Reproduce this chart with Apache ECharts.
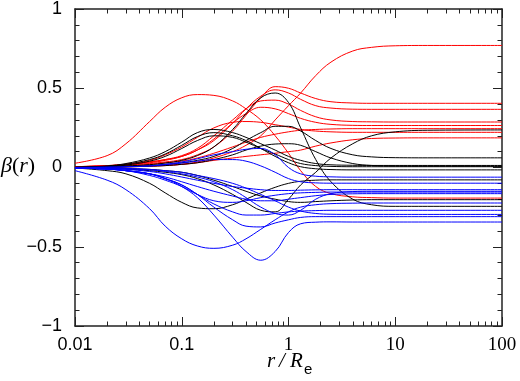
<!DOCTYPE html>
<html><head><meta charset="utf-8">
<script src="https://cdn.jsdelivr.net/npm/echarts@6/dist/echarts.min.js"></script>
<style>html,body{margin:0;padding:0;background:#fff}#c{width:520px;height:381px}</style>
</head><body><div id="c"></div>
<script>
// radius grid r/Re
const radius = [0.01,0.02,0.03,0.05,0.07,0.1,0.14,0.2,0.3,0.4,0.55,0.75,1,1.3,1.8,2.5,4,6,10,20,100];
const xMajorTicks = [0.01,0.1,1,10,100];
const xMinorTicks = [0.02,0.03,0.04,0.05,0.06,0.07,0.08,0.09,0.2,0.3,0.4,0.5,0.6,0.7,0.8,0.9,2,3,4,5,6,7,8,9,20,30,40,50,60,70,80,90];

// red models
const red1 = [0.027,0.075,0.15,0.29,0.38,0.44,0.46,0.455,0.42,0.37,0.30,0.20,0.09,-0.02,-0.12,-0.165,-0.185,-0.19,-0.193,-0.193,-0.193];
const red2 = [0,0.002,0.004,0.008,0.012,0.02,0.035,0.06,0.10,0.14,0.2,0.3,0.39,0.47,0.58,0.665,0.735,0.758,0.768,0.77,0.77];
const red3 = [0.005,0.01,0.015,0.025,0.035,0.05,0.08,0.13,0.23,0.33,0.44,0.51,0.5,0.47,0.435,0.415,0.407,0.405,0.405,0.405,0.405];
const red4 = [0.005,0.012,0.02,0.035,0.05,0.07,0.11,0.17,0.28,0.37,0.45,0.49,0.47,0.43,0.39,0.375,0.368,0.367,0.367,0.367,0.367];
const red5 = [0.005,0.012,0.02,0.035,0.05,0.075,0.12,0.2,0.3,0.37,0.42,0.425,0.4,0.36,0.32,0.3,0.29,0.288,0.287,0.287,0.287];
const red6 = [0.005,0.01,0.018,0.03,0.045,0.07,0.11,0.18,0.28,0.34,0.38,0.37,0.34,0.31,0.285,0.272,0.266,0.265,0.265,0.265,0.265];
const red7 = [0.003,0.006,0.01,0.02,0.03,0.04,0.06,0.09,0.13,0.16,0.19,0.21,0.225,0.235,0.24,0.243,0.245,0.245,0.245,0.245,0.245];
const red8 = [0.003,0.01,0.02,0.045,0.08,0.13,0.19,0.25,0.285,0.29,0.285,0.27,0.255,0.24,0.23,0.225,0.222,0.222,0.222,0.222,0.222];
const red9 = [0.002,0.004,0.006,0.01,0.015,0.02,0.03,0.045,0.06,0.07,0.08,0.09,0.1,0.11,0.135,0.155,0.175,0.183,0.186,0.187,0.187];

// black models
const black1 = [0.003,0.006,0.01,0.018,0.028,0.045,0.075,0.13,0.24,0.34,0.44,0.47,0.41,0.25,0.05,-0.09,-0.2,-0.235,-0.245,-0.245,-0.245];
const black2 = [-0.002,-0.005,-0.01,-0.02,-0.03,-0.045,-0.07,-0.11,-0.17,-0.22,-0.27,-0.28,-0.2,-0.11,-0.03,0.06,0.15,0.2,0.225,0.235,0.237];
const black3 = [-0.003,-0.02,-0.04,-0.1,-0.16,-0.22,-0.255,-0.26,-0.235,-0.2,-0.16,-0.125,-0.1,-0.087,-0.08,-0.078,-0.078,-0.078,-0.078,-0.078,-0.078];
const black4 = [0,0.01,0.025,0.06,0.1,0.16,0.22,0.24,0.22,0.19,0.15,0.11,0.07,0.045,0.025,0.017,0.014,0.013,0.013,0.013,0.013];
const black5 = [0,0.008,0.02,0.05,0.085,0.14,0.195,0.22,0.2,0.17,0.12,0.07,0.03,0.005,-0.008,-0.013,-0.015,-0.015,-0.015,-0.015,-0.015];
const black6 = [0,0.006,0.015,0.04,0.07,0.12,0.17,0.2,0.19,0.16,0.12,0.085,0.05,0.025,0.012,0.007,0.005,0.005,0.005,0.005,0.005];
const black7 = [0,0.003,0.006,0.012,0.02,0.03,0.045,0.07,0.12,0.17,0.22,0.26,0.26,0.23,0.17,0.12,0.08,0.067,0.062,0.061,0.061];
const black8 = [0,0.002,0.004,0.008,0.012,0.02,0.03,0.05,0.08,0.11,0.135,0.148,0.15,0.14,0.1,0.06,0.025,0.013,0.009,0.008,0.008];
const black9 = [0,-0.003,-0.006,-0.012,-0.02,-0.03,-0.05,-0.08,-0.12,-0.15,-0.18,-0.2,-0.215,-0.22,-0.215,-0.21,-0.205,-0.203,-0.203,-0.203,-0.203];

// blue models
const blue1 = [-0.02,-0.08,-0.14,-0.26,-0.37,-0.45,-0.495,-0.51,-0.49,-0.45,-0.39,-0.33,-0.28,-0.25,-0.235,-0.228,-0.225,-0.224,-0.224,-0.224,-0.224];
const blue2 = [-0.005,-0.01,-0.02,-0.04,-0.07,-0.12,-0.19,-0.3,-0.44,-0.53,-0.585,-0.53,-0.41,-0.355,-0.345,-0.343,-0.344,-0.344,-0.344,-0.344,-0.344];
const blue3 = [-0.003,-0.01,-0.02,-0.04,-0.07,-0.11,-0.17,-0.25,-0.33,-0.37,-0.375,-0.35,-0.33,-0.315,-0.31,-0.31,-0.31,-0.31,-0.31,-0.31,-0.31];
const blue4 = [-0.003,-0.01,-0.02,-0.04,-0.07,-0.11,-0.17,-0.23,-0.28,-0.3,-0.3,-0.29,-0.28,-0.275,-0.272,-0.27,-0.27,-0.27,-0.27,-0.27,-0.27];
const blue5 = [-0.003,-0.01,-0.02,-0.04,-0.06,-0.09,-0.12,-0.15,-0.18,-0.2,-0.21,-0.21,-0.2,-0.19,-0.178,-0.17,-0.166,-0.165,-0.165,-0.165,-0.165];
const blue6 = [-0.002,-0.004,-0.008,-0.015,-0.025,-0.04,-0.06,-0.09,-0.14,-0.19,-0.25,-0.29,-0.3,-0.27,-0.2,-0.165,-0.152,-0.15,-0.15,-0.15,-0.15];
const blue7 = [0,0.002,0.005,0.01,0.02,0.035,0.055,0.08,0.1,0.115,0.12,0.08,0.0,-0.04,-0.055,-0.059,-0.061,-0.061,-0.061,-0.061,-0.061];
const blue8 = [0,0.002,0.004,0.01,0.018,0.028,0.04,0.05,0.05,0.04,0.01,-0.03,-0.07,-0.09,-0.097,-0.099,-0.099,-0.099,-0.099,-0.099,-0.099];
const blue9 = [-0.002,-0.006,-0.012,-0.025,-0.04,-0.06,-0.08,-0.1,-0.12,-0.13,-0.14,-0.145,-0.145,-0.143,-0.141,-0.14,-0.14,-0.14,-0.14,-0.14,-0.14];
const blue10 = [-0.003,-0.01,-0.02,-0.05,-0.08,-0.12,-0.17,-0.21,-0.22,-0.21,-0.19,-0.175,-0.165,-0.16,-0.157,-0.155,-0.155,-0.155,-0.155,-0.155,-0.155];
const blue11 = [-0.001,-0.003,-0.006,-0.012,-0.02,-0.03,-0.05,-0.07,-0.1,-0.13,-0.17,-0.21,-0.25,-0.275,-0.29,-0.295,-0.296,-0.296,-0.296,-0.296,-0.296];

const redModels = [red1,red2,red3,red4,red5,red6,red7,red8,red9];
const blackModels = [black1,black2,black3,black4,black5,black6,black7,black8,black9];
const blueModels = [blue1,blue2,blue3,blue4,blue5,blue6,blue7,blue8,blue9,blue10,blue11];

const chart = echarts.init(document.getElementById('c'), null, {renderer:'canvas'});
const series = [];
function addGroup(models, color){
  models.forEach(function(m, i){
    series.push({
      type:'line', name: color+i, data: radius.map(function(r,k){return [r, m[k]];}),
      showSymbol:false, smooth:0.4, silent:true, animation:false,
      lineStyle:{color:color, width:1}, z:2
    });
  });
}
addGroup(redModels, '#ff0000');
addGroup(blackModels, '#000000');
addGroup(blueModels, '#0000ff');

const lblFont = '"Liberation Sans", Arial, sans-serif';
function frame(show){ return {show:show, onZero:false, lineStyle:{color:'#222', width:1.5}}; }
function xAxisBase(pos, ticks, len, line){
  return {type:'log', logBase:10, min:0.01, max:100, position:pos, splitLine:{show:false},
    axisLine:frame(line), axisTick:{show:true, inside:true, length:len, customValues:ticks, lineStyle:{color:'#222', width:1}},
    axisLabel:{show:false}, minorTick:{show:false}};
}
const xMain = xAxisBase('bottom', xMajorTicks, 9, true);
xMain.axisLabel = {show:true, margin:10, color:'#000', customValues:xMajorTicks,
  formatter:function(v){ return v < 1 ? '{s|'+(+v.toPrecision(1))+'}' : '{r|'+Math.round(v)+'}'; },
  rich:{s:{fontFamily:lblFont, fontSize:18, color:'#000'}, r:{fontFamily:'"Liberation Serif", serif', fontSize:19, color:'#000'}}};
const xTop = xAxisBase('top', xMajorTicks, 9, true);
const xMinB = xAxisBase('bottom', xMinorTicks, 4.5, false);
const xMinT = xAxisBase('top', xMinorTicks, 4.5, false);

function yAxisBase(pos, labels){
  return {type:'value', min:-1, max:1, interval:0.5, position:pos, splitLine:{show:false},
    axisLine:frame(true), axisTick:{show:true, inside:true, length:9, lineStyle:{color:'#222', width:1}},
    minorTick:{show:true, splitNumber:5, length:4.5, lineStyle:{color:'#222', width:1}},
    axisLabel:{show:labels, margin:13, color:'#000', fontFamily:lblFont, fontSize:18,
      formatter:function(v){ return v < 0 ? '\u2212'+Math.abs(v) : String(v); }}};
}

const titleSerif = 'italic 21px "Liberation Serif", serif';
chart.setOption({
  animation:false,
  backgroundColor:'#fff',
  grid:{left:75, right:18, top:8, bottom:55, containLabel:false},
  xAxis:[xMain, xTop, xMinB, xMinT],
  yAxis:[yAxisBase('left', true), yAxisBase('right', false)],
  graphic:[
    {type:'text', left:267, top:351, style:{text:'r', font:titleSerif, fill:'#000'}},
    {type:'text', left:279, top:351, style:{text:'/', font:titleSerif, fill:'#000'}},
    {type:'text', left:290, top:351, style:{text:'R', font:titleSerif, fill:'#000'}},
    {type:'text', left:304, top:362, style:{text:'e', font:'15px "Liberation Sans", sans-serif', fill:'#000'}},
    {type:'text', left:1, top:155, style:{text:'{g|β}{n|(}{g|r}{n|)}', rich:{
      g:{font:'italic 22px "Liberation Serif", serif', fill:'#000'},
      n:{font:'22px "Liberation Serif", serif', fill:'#000'}}}}
  ],
  series:series
});
</script></body></html>
